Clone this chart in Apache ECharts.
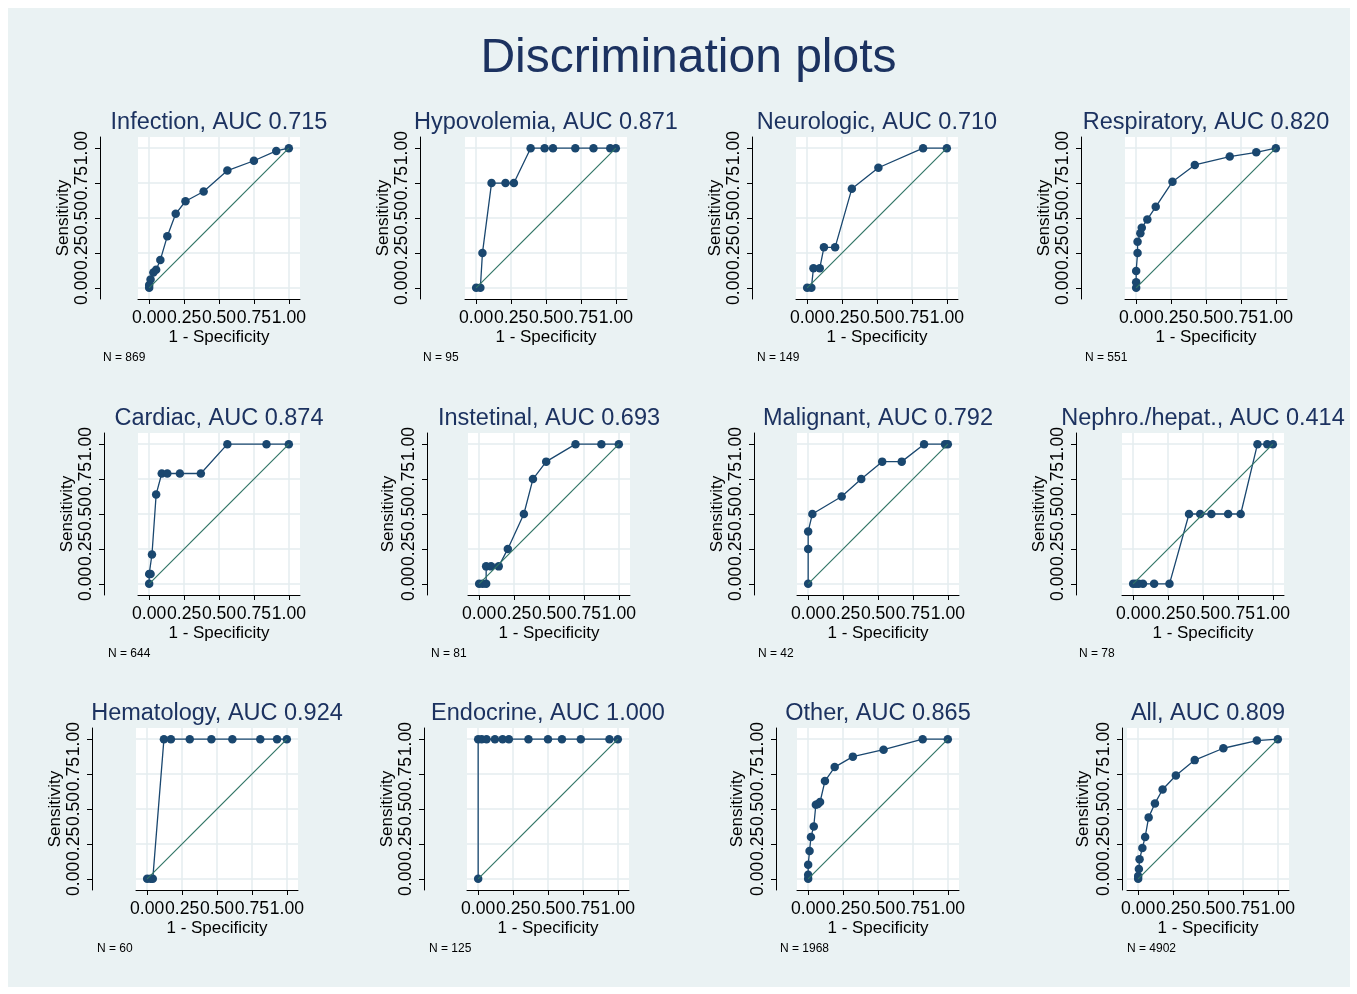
<!DOCTYPE html>
<html><head><meta charset="utf-8">
<script src="https://cdn.jsdelivr.net/npm/echarts@6/dist/echarts.min.js"></script>
<style>
html,body{margin:0;padding:0;background:#fff;}
#bg{position:absolute;left:8px;top:8px;width:1342px;height:979px;background:#eaf2f3;}
#c{position:absolute;left:0;top:0;width:1357px;height:994px;}
</style>
</head><body>
<div id="bg"></div>
<div id="c"></div>
<script>
// ---------------- data ----------------
const groupNames = ['Infection', 'Hypovolemia', 'Neurologic', 'Respiratory', 'Cardiac', 'Instetinal',
  'Malignant', 'Nephro./hepat.', 'Hematology', 'Endocrine', 'Other', 'All'];
const aucValues = ['0.715', '0.871', '0.710', '0.820', '0.874', '0.693', '0.792', '0.414', '0.924', '1.000', '0.865', '0.809'];
const sampleSizes = [869, 95, 149, 551, 644, 81, 42, 78, 60, 125, 1968, 4902];
const tickValues = [0, 0.25, 0.5, 0.75, 1];
const refLineX = [0, 1];
const refLineY = [0, 1];

const infectionX = [0, 0, 0.01, 0.03, 0.05, 0.08, 0.13, 0.19, 0.26, 0.39, 0.56, 0.75, 0.91, 1];
const infectionY = [0, 0.02, 0.06, 0.11, 0.13, 0.20, 0.37, 0.53, 0.62, 0.69, 0.84, 0.91, 0.98, 1];
const hypovolemiaX = [0, 0.03, 0.045, 0.11, 0.21, 0.27, 0.39, 0.49, 0.55, 0.71, 0.84, 0.96, 1];
const hypovolemiaY = [0, 0, 0.25, 0.75, 0.75, 0.75, 1, 1, 1, 1, 1, 1, 1];
const neurologicX = [0, 0.03, 0.045, 0.09, 0.12, 0.2, 0.32, 0.51, 0.83, 1];
const neurologicY = [0, 0, 0.14, 0.14, 0.29, 0.29, 0.71, 0.86, 1, 1];
const respiratoryX = [0, 0, 0, 0.01, 0.01, 0.03, 0.04, 0.08, 0.14, 0.26, 0.42, 0.67, 0.86, 1];
const respiratoryY = [0, 0.04, 0.12, 0.25, 0.33, 0.39, 0.43, 0.49, 0.58, 0.76, 0.88, 0.94, 0.97, 1];
const cardiacX = [0, 0, 0.01, 0.02, 0.05, 0.09, 0.13, 0.22, 0.37, 0.56, 0.84, 1];
const cardiacY = [0, 0.07, 0.07, 0.21, 0.64, 0.79, 0.79, 0.79, 0.79, 1, 1, 1];
const instetinalX = [0, 0.025, 0.05, 0.05, 0.085, 0.14, 0.205, 0.32, 0.385, 0.48, 0.69, 0.875, 1];
const instetinalY = [0, 0, 0, 0.125, 0.125, 0.125, 0.25, 0.5, 0.75, 0.875, 1, 1, 1];
const malignantX = [0, 0, 0, 0.03, 0.24, 0.38, 0.53, 0.67, 0.83, 0.98, 1];
const malignantY = [0, 0.25, 0.375, 0.5, 0.625, 0.75, 0.875, 0.875, 1, 1, 1];
const nephroX = [0, 0.02, 0.04, 0.07, 0.15, 0.26, 0.4, 0.48, 0.56, 0.68, 0.77, 0.89, 0.96, 1];
const nephroY = [0, 0, 0, 0, 0, 0, 0.5, 0.5, 0.5, 0.5, 0.5, 1, 1, 1];
const hematologyX = [0, 0.025, 0.04, 0.12, 0.17, 0.305, 0.46, 0.61, 0.81, 0.93, 1];
const hematologyY = [0, 0, 0, 1, 1, 1, 1, 1, 1, 1, 1];
const endocrineX = [0, 0, 0.025, 0.06, 0.12, 0.175, 0.22, 0.36, 0.5, 0.6, 0.735, 0.94, 1];
const endocrineY = [0, 1, 1, 1, 1, 1, 1, 1, 1, 1, 1, 1, 1];
const otherX = [0, 0, 0, 0.01, 0.02, 0.04, 0.055, 0.07, 0.085, 0.12, 0.19, 0.32, 0.54, 0.82, 1];
const otherY = [0, 0.03, 0.1, 0.2, 0.3, 0.375, 0.53, 0.535, 0.55, 0.70, 0.80, 0.875, 0.925, 1, 1];
const allX = [0, 0, 0.005, 0.01, 0.03, 0.05, 0.075, 0.12, 0.175, 0.27, 0.405, 0.61, 0.85, 1];
const allY = [0, 0.02, 0.07, 0.14, 0.22, 0.30, 0.44, 0.54, 0.64, 0.74, 0.85, 0.935, 0.99, 1];

const curvesX = [infectionX, hypovolemiaX, neurologicX, respiratoryX, cardiacX, instetinalX,
  malignantX, nephroX, hematologyX, endocrineX, otherX, allX];
const curvesY = [infectionY, hypovolemiaY, neurologicY, respiratoryY, cardiacY, instetinalY,
  malignantY, nephroY, hematologyY, endocrineY, otherY, allY];

// ---------------- layout ----------------
const FONT = '"Liberation Sans", Arial, Helvetica, sans-serif';
const NAVY = '#1c3260';
const MARK = '#1a476f';
const REF = '#317566';
const GRIDC = '#e5ecef';
const gridLeft = [138, 465, 796, 1125, 138, 468, 797, 1122, 136, 467, 797, 1127];
const rowTop = [137, 433, 728];
const SIZE = 162;
const axisLineX = [100, 420, 752, 1081, 104, 427, 754, 1076, 92, 424, 776, 1122];
const yNameCenter = [63, 388, 717, 1047, 67, 388, 717, 1047, 58, 388, 737, 1083];
const noteOffset = [3, 3, 5, 4, 4, 4, 4, 3, 5, 5, 4, 5];
const TICKFS = 17.6;

const grids = [], xAxes = [], yAxes = [], series = [], graphics = [];
const fmt = v => v.toFixed(2);

for (let i = 0; i < 12; i++) {
  const top = rowTop[Math.floor(i / 4)];
  const left = gridLeft[i];
  grids.push({ left: left, top: top, width: SIZE, height: SIZE, show: true,
    backgroundColor: '#ffffff', borderWidth: 0, containLabel: false, outerBoundsMode: 'none' });
  xAxes.push({
    gridIndex: i, type: 'value', min: -0.08, max: 1.08,
    axisLine: { show: true, onZero: false, lineStyle: { color: '#000', width: 1 } },
    axisTick: { show: true, length: 5, customValues: tickValues, lineStyle: { color: '#000', width: 1 } },
    axisLabel: { customValues: tickValues, formatter: fmt, fontSize: TICKFS, color: '#000', margin: 10, fontFamily: FONT },
    splitLine: { show: true, lineStyle: { color: GRIDC, width: 1.5 } },
    name: '1 - Specificity', nameLocation: 'middle', nameGap: 30,
    nameTextStyle: { fontSize: 17, color: '#000', fontFamily: FONT }
  });
  yAxes.push({
    gridIndex: i, type: 'value', min: -0.08, max: 1.08, offset: left - axisLineX[i],
    axisLine: { show: true, onZero: false, lineStyle: { color: '#000', width: 1 } },
    axisTick: { show: true, length: 5, customValues: tickValues, lineStyle: { color: '#000', width: 1 } },
    axisLabel: { customValues: tickValues, formatter: fmt, rotate: 90, fontSize: TICKFS, color: '#000', margin: 9, fontFamily: FONT },
    splitLine: { show: true, lineStyle: { color: GRIDC, width: 1.5 } },
    name: 'Sensitivity', nameLocation: 'middle', nameGap: axisLineX[i] - yNameCenter[i] - 8.5,
    nameTextStyle: { fontSize: 17, color: '#000', fontFamily: FONT }
  });
  series.push({
    type: 'line', xAxisIndex: i, yAxisIndex: i,
    data: curvesX[i].map((x, j) => [x, curvesY[i][j]]),
    symbol: 'circle', symbolSize: 8.5, showSymbol: true,
    itemStyle: { color: MARK }, lineStyle: { color: MARK, width: 1.3 },
    animation: false, silent: true, z: 2
  });
  series.push({
    type: 'line', xAxisIndex: i, yAxisIndex: i,
    data: refLineX.map((x, j) => [x, refLineY[j]]),
    symbol: 'none', showSymbol: false,
    lineStyle: { color: REF, width: 1.2 },
    animation: false, silent: true, z: 3
  });
  graphics.push({
    type: 'text', x: left + SIZE / 2, y: top - 14,
    style: { text: groupNames[i] + ', AUC ' + aucValues[i], fill: NAVY,
      font: '23.5px ' + FONT, textAlign: 'center', textVerticalAlign: 'middle' }
  });
  graphics.push({
    type: 'text', x: axisLineX[i] + noteOffset[i], y: top + SIZE + 59,
    style: { text: 'N = ' + sampleSizes[i], fill: '#000',
      font: '12px ' + FONT, textAlign: 'left', textVerticalAlign: 'middle' }
  });
}
graphics.push({
  type: 'text', x: 688.5, y: 59,
  style: { text: 'Discrimination plots', fill: NAVY, font: '48px ' + FONT,
    textAlign: 'center', textVerticalAlign: 'middle' }
});

const chart = echarts.init(document.getElementById('c'), null, { renderer: 'canvas' });
chart.setOption({
  animation: false,
  grid: grids, xAxis: xAxes, yAxis: yAxes, series: series,
  graphic: { elements: graphics }
});
</script>
</body></html>
